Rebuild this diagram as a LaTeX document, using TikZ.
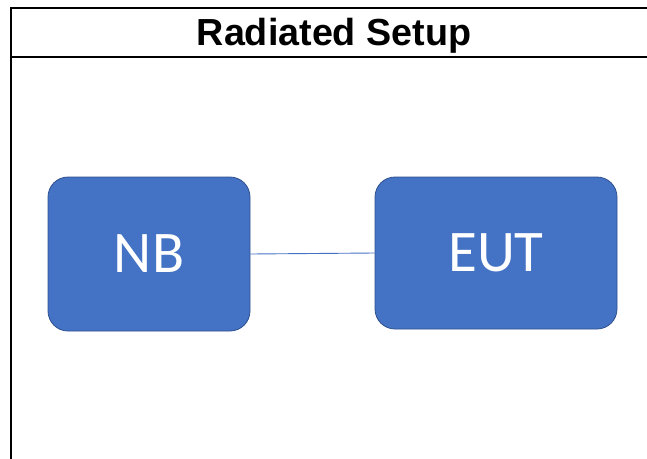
\documentclass[tikz,border=0pt]{standalone}
\usepackage{fontspec}
\setmainfont{Liberation Sans}
\newfontfamily\calib{Carlito}
\definecolor{boxfill}{HTML}{4472C4}
\definecolor{boxedge}{HTML}{2F528F}
\begin{document}
\begin{tikzpicture}[x=1pt,y=-1pt,
  devbox/.style={draw=boxedge, line width=0.8pt, fill=boxfill, rounded corners=20pt,
    inner sep=0pt, text=white, font=\calib\fontsize{59}{63}\selectfont},
  frame/.style={line width=2pt, black}]
\useasboundingbox (0,0) rectangle (647,458);
\fill[white] (0,0) rectangle (647,458);
\coordinate (tl) at (11,7.5);
\coordinate (tr) at (648,7.5);
\coordinate (dl) at (11,56.5);
\coordinate (dr) at (648,56.5);
\coordinate (bl) at (11,459);
\draw[frame] (tr) -- (tl) -- (bl);
\draw[frame] (dl) -- (dr);
\node[font=\bfseries\fontsize{37.7}{40}\selectfont, inner sep=0pt, anchor=base] (title) at (334,45.7) {Radiated Setup};
\node[devbox, minimum width=202pt, minimum height=154pt] (nb) at (149,254) {NB};
\node[devbox, minimum width=242pt, minimum height=152pt] (eut) at (496,253) {EUT};
\draw[boxfill, line width=0.9pt] (nb.east) -- (eut.west);
\end{tikzpicture}
\end{document}
